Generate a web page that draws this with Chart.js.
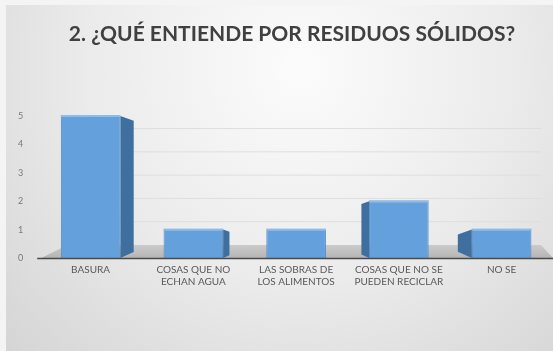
<!DOCTYPE html>
<html>
<head>
<meta charset="utf-8">
<script src="https://cdn.jsdelivr.net/npm/chart.js@4/dist/chart.umd.min.js"></script>
<style>
  html, body { margin: 0; padding: 0; background: #fff; }
  canvas { display: block; }
</style>
</head>
<body>
<canvas id="chartOne" width="553" height="351"></canvas>
<script>
// data
const categories = [
  'BASURA',
  ['COSAS QUE NO', 'ECHAN AGUA'],
  ['LAS SOBRAS DE', 'LOS ALIMENTOS'],
  ['COSAS QUE NO SE', 'PUEDEN RECICLAR'],
  'NO SE'
];
const answers = [5, 1, 1, 2, 1];
const yTicks = [0, 1, 2, 3, 4, 5];
const chartTitle = '2. ¿QUÉ ENTIENDE POR RESIDUOS SÓLIDOS?';

// slide background, title, floor, back wall grid, 3d sides, axis line
const slide3d = {
  id: 'slide3d',
  beforeDraw(chart) {
    const c = chart.ctx;
    c.save();
    c.fillStyle = '#f4f4f4';
    c.fillRect(0, 0, chart.width, chart.height);
    let g = c.createRadialGradient(300, 70, 10, 300, 70, 420);
    g.addColorStop(0, '#fbfbfb');
    g.addColorStop(0.5, '#ebebeb');
    g.addColorStop(1, '#d3d3d3');
    c.fillStyle = g;
    c.fillRect(6, 5, chart.width - 6, chart.height - 5);
    // title
    c.fillStyle = '#404040';
    c.font = 'bold 21px Lato';
    c.textAlign = 'center';
    c.textBaseline = 'middle';
    c.fillText(chartTitle, 292, 34);
    c.restore();
  },
  beforeDatasetsDraw(chart) {
    const c = chart.ctx;
    const a = chart.chartArea;
    const y = chart.scales.y;
    const zero = y.getPixelForValue(0);
    c.save();
    // back wall grid lines
    c.strokeStyle = '#dedede';
    c.lineWidth = 1;
    yTicks.slice(1).forEach(v => {
      const py = zero - 13 + (y.getPixelForValue(v) - zero) * 0.82;
      c.beginPath();
      c.moveTo(a.left + 28, py);
      c.lineTo(a.right - 12, py);
      c.stroke();
    });
    // floor
    let g = c.createLinearGradient(0, zero - 13, 0, zero);
    g.addColorStop(0, '#cbcbcb');
    g.addColorStop(1, '#b5b5b5');
    c.fillStyle = g;
    c.beginPath();
    c.moveTo(a.left + 2, zero);
    c.lineTo(a.left + 28, zero - 13);
    c.lineTo(a.right - 12, zero - 13);
    c.lineTo(a.right, zero);
    c.closePath();
    c.fill();
    c.restore();
  },
  afterDatasetsDraw(chart) {
    const c = chart.ctx;
    const a = chart.chartArea;
    const mid = (a.left + a.right) / 2 - 10;
    const zero = chart.scales.y.getPixelForValue(0);
    c.save();
    chart.getDatasetMeta(0).data.forEach(bar => {
      const half = bar.width / 2;
      const w = Math.min(14, Math.abs(bar.x - mid) * 0.068);
      const top = bar.y;
      if (w > 1) {
        const edge = bar.x < mid ? bar.x + half : bar.x - half;
        const dir = bar.x < mid ? 1 : -1;
        c.fillStyle = '#3f6f9f';
        c.beginPath();
        c.moveTo(edge, top);
        c.lineTo(edge + dir * w, top + w * 0.35);
        c.lineTo(edge + dir * w, zero - w * 0.45);
        c.lineTo(edge, zero);
        c.closePath();
        c.fill();
      }
      // thin top face
      c.fillStyle = '#8fbbe6';
      c.fillRect(bar.x - half, top - 1, bar.width, 2);
    });
    // axis line
    c.strokeStyle = '#4a4a4a';
    c.lineWidth = 1.5;
    c.beginPath();
    c.moveTo(a.left - 2, zero + 0.5);
    c.lineTo(chart.width, zero + 0.5);
    c.stroke();
    c.restore();
  }
};

let answersChart = new Chart(document.getElementById('chartOne').getContext('2d'), {
  type: 'bar',
  data: {
    labels: categories,
    datasets: [{
      label: 'Respuestas',
      data: answers,
      backgroundColor: '#63a0dc',
      borderColor: '#4f87c2',
      borderWidth: 1,
      barPercentage: 0.58,
      categoryPercentage: 1
    }]
  },
  options: {
    responsive: false,
    animation: false,
    devicePixelRatio: 1,
    layout: { padding: { left: 2, right: 0, top: 116, bottom: 57 } },
    plugins: {
      legend: { display: false },
      tooltip: { enabled: false },
      title: { display: false }
    },
    scales: {
      x: {
        grid: { display: false, drawTicks: false },
        border: { display: false },
        ticks: {
          color: '#595959',
          font: { family: 'Lato', size: 10 },
          maxRotation: 0,
          autoSkip: false,
          padding: 6
        }
      },
      y: {
        min: 0,
        max: 5,
        grid: { display: false, drawTicks: false },
        border: { display: false },
        afterBuildTicks(scale) { scale.ticks = yTicks.map(v => ({ value: v })); },
        ticks: {
          color: '#7a7a7a',
          font: { family: 'Lato', size: 9 },
          padding: 16
        }
      }
    }
  },
  plugins: [slide3d]
});
</script>
</body>
</html>
